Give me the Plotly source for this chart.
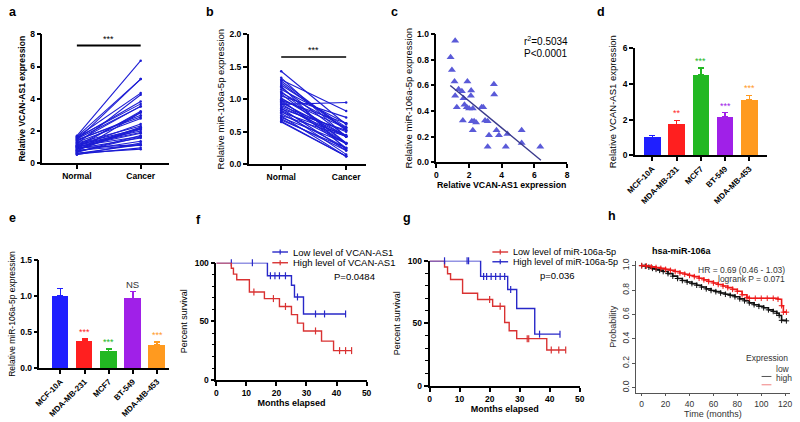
import plotly.graph_objects as go

# ---------------- data ----------------
pair_labels = ["Normal", "Cancer"]
# panel a: VCAN-AS1 paired (normal -> cancer)
vcan_normal = [0.95, 0.62, 0.55, 0.80, 1.10, 0.75, 0.60, 0.90, 1.05, 1.20, 0.85, 0.70,
               1.00, 0.52, 1.15, 0.95, 1.30, 1.45, 0.68, 0.88, 1.25, 1.05, 0.78, 1.40,
               1.10, 1.50, 1.35, 1.60, 0.98, 0.72, 1.55, 1.62, 1.20, 1.65, 1.45, 1.70]
vcan_cancer = [1.15, 0.87, 0.95, 1.11, 1.90, 1.36, 1.15, 1.56, 1.66, 2.13, 2.11, 1.72,
               1.86, 1.25, 2.00, 2.23, 2.77, 2.87, 1.62, 2.17, 2.31, 2.43, 2.23, 2.98,
               3.14, 3.52, 3.54, 3.68, 3.22, 3.14, 3.83, 4.35, 4.25, 5.22, 5.22, 6.36]
# panel b: miR-106a-5p paired (normal -> cancer)
mir_normal = [0.92, 1.30, 1.05, 1.15, 0.98, 1.22, 0.85, 1.00, 0.90, 1.10, 1.25, 0.80,
              0.95, 0.75, 1.33, 0.88, 1.18, 1.02, 0.72, 0.83, 1.08, 0.93, 0.68, 1.12,
              0.97, 1.43, 1.28, 0.78, 0.70, 0.65, 0.86, 1.20, 0.74, 0.99, 0.82, 0.66]
mir_cancer = [0.95, 0.82, 0.72, 0.63, 0.63, 0.57, 0.52, 0.555, 0.50, 0.56, 0.52, 0.45,
              0.43, 0.43, 0.42, 0.42, 0.43, 0.43, 0.325, 0.32, 0.32, 0.31, 0.25, 0.325,
              0.32, 0.61, 0.53, 0.25, 0.21, 0.12, 0.21, 0.22, 0.12, 0.25, 0.15, 0.12]
# panel c: regression line
fit_x = [0.85, 6.4]
fit_y = [0.60, 0.015]
r2_text = "r<sup>2</sup>=0.5034"
p_text = "P<0.0001"

# panels d, e: cell lines
cell_lines = ["MCF-10A", "MDA-MB-231", "MCF7", "BT-549", "MDA-MB-453"]
vcan_cell = [1.0, 1.73, 4.51, 2.15, 3.11]
vcan_cell_err = [0.11, 0.23, 0.36, 0.23, 0.25]
vcan_cell_sig = ["", "**", "***", "***", "***"]
mir_cell = [1.0, 0.374, 0.234, 0.968, 0.329]
mir_cell_err = [0.10, 0.03, 0.03, 0.09, 0.035]
mir_cell_sig = ["", "***", "***", "NS", "***"]
bar_colors = ["#1f1fff", "#ff1f1f", "#22b822", "#a020e8", "#ff9a1f"]

# panel f: KM by VCAN-AS1
f_low_t = [0, 17, 25, 26, 29, 43]
f_low_s = [100, 88.9, 80.8, 70.8, 56.3, 56.3]
f_low_ct = [5, 12, 18, 19.5, 21, 23, 27, 33, 36, 43]
f_low_cs = [100, 100, 88.9, 88.9, 88.9, 88.9, 70.8, 56.3, 56.3, 56.3]
f_high_t = [0, 5, 5.7, 6.8, 11, 16, 21, 25, 27, 29, 35, 39, 45]
f_high_s = [100, 95.3, 90.3, 85.5, 75, 69.4, 62.7, 55.7, 48.5, 41.8, 33.1, 25, 25]
f_high_ct = [12.5, 19, 23, 33, 41, 43, 45]
f_high_cs = [75, 69.4, 62.7, 41.8, 25, 25, 25]
f_labels = ["Low level of VCAN-AS1", "High level of VCAN-AS1"]
f_p = "P=0.0484"

# panel g: KM by miR-106a-5p
g_low_t = [0, 5, 6, 7, 11, 16, 21, 25, 26.5, 29, 39, 45.3]
g_low_s = [100, 95, 89.6, 85, 74, 69, 63.6, 50.6, 44, 37.7, 28.6, 28.6]
g_low_ct = [20, 23.5, 32.5, 33, 40.5, 43, 45.3]
g_low_cs = [69, 63.6, 37.7, 37.7, 28.6, 28.6, 28.6]
g_high_t = [0, 17, 26, 29, 35, 43.4]
g_high_s = [100, 87.5, 77, 61.8, 41.3, 41.3]
g_high_ct = [5, 12.5, 13, 18, 19, 20.5, 22, 23.5, 25, 27, 36.6, 43.4]
g_high_cs = [100, 100, 100, 87.5, 87.5, 87.5, 87.5, 87.5, 87.5, 77, 41.3, 41.3]
g_labels = ["Low level of miR-106a-5p", "High level of miR-106a-5p"]
g_p = "p=0.036"

# panel h: KM plotter
h_low_t = [0, 3, 6, 9, 12, 15, 18, 22, 26, 30, 34, 38, 42, 46, 50, 54, 58, 62, 66, 70,
           74, 78, 82, 86, 90, 94, 98, 102, 106, 110, 113, 115, 117, 121]
h_low_s = [1.0, 0.995, 0.988, 0.978, 0.97, 0.962, 0.952, 0.935, 0.914, 0.895, 0.878,
           0.866, 0.853, 0.84, 0.825, 0.81, 0.797, 0.787, 0.776, 0.766, 0.757, 0.745,
           0.728, 0.712, 0.695, 0.68, 0.667, 0.655, 0.638, 0.625, 0.61, 0.592, 0.552, 0.548]
h_high_t = [0, 4, 8, 12, 16, 20, 24, 28, 32, 36, 40, 44, 48, 52, 56, 60, 64, 68, 72, 76,
            80, 84, 88, 90, 95, 100, 105, 110, 114, 117, 118.5, 121]
h_high_s = [1.0, 0.997, 0.99, 0.985, 0.978, 0.97, 0.962, 0.952, 0.94, 0.93, 0.92, 0.91,
            0.897, 0.884, 0.87, 0.858, 0.846, 0.833, 0.82, 0.806, 0.79, 0.762, 0.74,
            0.733, 0.733, 0.733, 0.733, 0.733, 0.725, 0.672, 0.619, 0.619]
h_title = "hsa-miR-106a"
h_hr = "HR = 0.69 (0.46 - 1.03)"
h_lr = "logrank P = 0.071"
h_legend = ["low", "high"]

# ---------------- style ----------------
FONT = "Liberation Sans"
W, H = 800, 422
LINE_BLUE = "#1c1cd4"
KM_BLUE = "#2828c8"
KM_RED = "#d93232"


def px(x):
    return x / W


def py(y):
    return 1 - y / H


def prism_axis(domain, rng, tsize=8.5, **kw):
    d = dict(domain=domain, range=rng, showline=True, linecolor="black", linewidth=1.5,
             ticks="outside", ticklen=4, tickwidth=1.5, tickcolor="black",
             showgrid=False, zeroline=False,
             tickfont=dict(family=FONT, size=tsize, color="black", weight="bold"))
    d.update(kw)
    return d


def title(text, size=9, bold=False, standoff=4):
    return dict(text=text, font=dict(family=FONT, size=size, color="black",
                                     weight="bold" if bold else "normal"),
                standoff=standoff)


fig = go.Figure()
layout = {}
ann = []
shapes = []

# ---- panel a ----
xs, ys = [], []
for n, c in zip(vcan_normal, vcan_cancer):
    xs += pair_labels + [None]
    ys += [n, c, None]
fig.add_trace(go.Scatter(x=xs, y=ys, mode="lines+markers", xaxis="x", yaxis="y",
                         line=dict(color=LINE_BLUE, width=1.1),
                         marker=dict(size=2.5, color=LINE_BLUE), showlegend=False))
layout["xaxis"] = prism_axis([px(34), px(163)], [-0.54, 1.446], tsize=8.5,
                             type="category", categoryorder="array", categoryarray=pair_labels,
                             anchor="y")
layout["yaxis"] = prism_axis([py(162), py(30)], [0, 8], tickvals=[0, 2, 4, 6, 8],
                             anchor="x", title=title("Relative VCAN-AS1 expression", 8.5, True, 3))

# ---- panel b ----
xs, ys = [], []
for n, c in zip(mir_normal, mir_cancer):
    xs += pair_labels + [None]
    ys += [n, c, None]
fig.add_trace(go.Scatter(x=xs, y=ys, mode="lines+markers", xaxis="x2", yaxis="y2",
                         line=dict(color=LINE_BLUE, width=1.1),
                         marker=dict(size=2.5, color=LINE_BLUE), showlegend=False))
layout["xaxis2"] = prism_axis([px(244), px(363)], [-0.5, 1.30],
                              type="category", categoryorder="array", categoryarray=pair_labels,
                              anchor="y2")
layout["yaxis2"] = prism_axis([py(163), py(30)], [0, 2], tickvals=[0, 0.5, 1.0, 1.5, 2.0],
                              tickformat=".1f", anchor="x2",
                              title=title("Relative miR-106a-5p expression", 9.5, False, 3))

# ---- panel c ----
fig.add_trace(go.Scatter(x=vcan_cancer, y=mir_cancer, mode="markers", xaxis="x3", yaxis="y3",
                         marker=dict(symbol="triangle-up", size=7, color="#5a5ad8"),
                         cliponaxis=False, showlegend=False))
fig.add_trace(go.Scatter(x=fit_x, y=fit_y, mode="lines", xaxis="x3", yaxis="y3",
                         line=dict(color="#3a3a8c", width=1.4), showlegend=False))
layout["xaxis3"] = prism_axis([px(435), px(568)], [0, 8], tickvals=[0, 2, 4, 6, 8], anchor="y3",
                              title=title("Relative VCAN-AS1 expression", 8.75, True, 2))
layout["yaxis3"] = prism_axis([py(161), py(30)], [0, 1], tickvals=[0, 0.2, 0.4, 0.6, 0.8, 1.0],
                              tickformat=".1f", anchor="x3",
                              title=title("Relative miR-106a-5p expression", 9.5, False, 3))


# ---- panel d & e: bars ----
def bar_panel(vals, errs, sigs, xa, ya):
    for lab, v, e, s, col in zip(cell_lines, vals, errs, sigs, bar_colors):
        fig.add_trace(go.Bar(x=[lab], y=[v], xaxis=xa, yaxis=ya, width=0.68,
                             marker=dict(color=col, line=dict(width=0)),
                             error_y=dict(type="data", array=[e], arrayminus=[0],
                                          symmetric=False, color=col, thickness=1.4, width=3),
                             showlegend=False))
        if s:
            ann.append(dict(x=lab, y=v + e, xref=xa, yref=ya, text=s, showarrow=False,
                            yanchor="bottom", yshift=0,
                            font=dict(family=FONT, size=9 if s != "NS" else 9.5,
                                      color=col if s != "NS" else "#333333")))


bar_panel(vcan_cell, vcan_cell_err, vcan_cell_sig, "x4", "y4")
layout["xaxis4"] = prism_axis([px(637), px(771)], [-0.72, 4.71], tsize=8, tickangle=-45,
                              type="category", categoryorder="array", categoryarray=cell_lines,
                              anchor="y4")
layout["yaxis4"] = prism_axis([py(154), py(44)], [0, 6], tickvals=[0, 2, 4, 6], anchor="x4",
                              title=title("Relative VCAN-AS1 expression", 9.5, False, 4))

bar_panel(mir_cell, mir_cell_err, mir_cell_sig, "x5", "y5")
layout["xaxis5"] = prism_axis([px(31), px(163)], [-0.87, 4.5], tsize=8, tickangle=-45,
                              type="category", categoryorder="array", categoryarray=cell_lines,
                              anchor="y5")
layout["yaxis5"] = prism_axis([py(372), py(261)], [0, 1.5], tickvals=[0, 0.5, 1.0, 1.5],
                              tickformat=".1f", anchor="x5",
                              title=title("Relative miR-106a-5p expression", 8.5, False, 3))


# ---- panels f & g: KM ----
def km(t, s, ct, cs, col, xa, ya):
    fig.add_trace(go.Scatter(x=t, y=s, mode="lines", line=dict(shape="hv", color=col, width=1.4),
                             xaxis=xa, yaxis=ya, showlegend=False))
    fig.add_trace(go.Scatter(x=ct, y=cs, mode="markers", xaxis=xa, yaxis=ya,
                             marker=dict(symbol="line-ns", size=5, line=dict(color=col, width=1.2)),
                             cliponaxis=False, showlegend=False))


MINOR = dict(tickvals=[10, 20, 30, 40, 60, 70, 80, 90], ticks="outside",
             ticklen=2.5, tickwidth=1, tickcolor="black")

km(f_low_t, f_low_s, f_low_ct, f_low_cs, KM_BLUE, "x6", "y6")
km(f_high_t, f_high_s, f_high_ct, f_high_cs, KM_RED, "x6", "y6")
layout["xaxis6"] = prism_axis([px(211), px(364)], [0, 50], tickvals=[0, 10, 20, 30, 40, 50],
                              anchor="y6", title=title("Months elapsed", 9, True, 2))
layout["yaxis6"] = prism_axis([py(384), py(264)], [0, 100], tickvals=[0, 50, 100], anchor="x6",
                              minor=MINOR, title=title("Percent survival", 9, False, 6))

km(g_low_t, g_low_s, g_low_ct, g_low_cs, KM_RED, "x7", "y7")
km(g_high_t, g_high_s, g_high_ct, g_high_cs, KM_BLUE, "x7", "y7")
layout["xaxis7"] = prism_axis([px(428), px(581)], [0, 50], tickvals=[0, 10, 20, 30, 40, 50],
                              anchor="y7", title=title("Months elapsed", 9, True, 2))
layout["yaxis7"] = prism_axis([py(390), py(262)], [0, 100], tickvals=[0, 50, 100], anchor="x7",
                              minor=MINOR, title=title("Percent survival", 9, False, 6))

# ---- panel h ----
fig.add_trace(go.Scatter(x=h_low_t, y=h_low_s, mode="lines+markers", xaxis="x8", yaxis="y8",
                         line=dict(shape="hv", color="#111111", width=1.6),
                         marker=dict(symbol="cross-thin", size=4, line=dict(color="#111111", width=1)),
                         showlegend=False))
fig.add_trace(go.Scatter(x=h_high_t, y=h_high_s, mode="lines+markers", xaxis="x8", yaxis="y8",
                         line=dict(shape="hv", color="#ee1a1a", width=1.6),
                         marker=dict(symbol="cross-thin", size=4, line=dict(color="#ee1a1a", width=1)),
                         showlegend=False))
HFONT = dict(family=FONT, size=8.5, color="#333333")
layout["xaxis8"] = dict(domain=[px(638), px(795)], range=[-4.9, 124.1], anchor="y8",
                        tickvals=[0, 20, 40, 60, 80, 100, 120], showline=True, linecolor="#555555",
                        linewidth=0.8, ticks="outside", ticklen=3, tickcolor="#555555",
                        showgrid=False, zeroline=False, tickfont=HFONT,
                        title=dict(text="Time (months)", font=dict(family=FONT, size=9, color="#333333"),
                                   standoff=2))
layout["yaxis8"] = dict(domain=[py(397), py(262)], range=[-0.04, 1.04], anchor="x8",
                        tickvals=[0, 0.2, 0.4, 0.6, 0.8, 1.0], tickformat=".1f", tickangle=-90,
                        showline=True, linecolor="#555555", linewidth=0.8, ticks="outside",
                        ticklen=3, tickcolor="#555555", showgrid=False, zeroline=False,
                        tickfont=HFONT,
                        title=dict(text="Probability", font=dict(family=FONT, size=9, color="#333333"),
                                   standoff=2))

# ---- annotations ----
for letter, lx, ly in [("a", 4, 7), ("b", 205, 7), ("c", 392, 7), ("d", 603, 7),
                       ("e", 4, 218), ("f", 193, 220), ("g", 405, 218), ("h", 614, 216)]:
    ann.append(dict(x=px(lx), y=py(ly), xref="paper", yref="paper", text=letter, showarrow=False,
                    xanchor="center", yanchor="middle",
                    font=dict(family=FONT, size=12.5, color="black", weight="bold")))

# significance bars a, b
shapes.append(dict(type="line", xref="x", yref="y", x0=0, x1=1, y0=7.3, y1=7.3,
                   line=dict(color="black", width=2)))
shapes.append(dict(type="line", xref="x2", yref="y2", x0=0, x1=1, y0=1.65, y1=1.65,
                   line=dict(color="black", width=1.5)))
ann.append(dict(x=0.5, y=7.3, xref="x", yref="y", text="***", showarrow=False, yanchor="bottom",
                font=dict(family=FONT, size=9, color="black")))
ann.append(dict(x=0.5, y=1.65, xref="x2", yref="y2", text="***", showarrow=False, yanchor="bottom",
                font=dict(family=FONT, size=9, color="black")))

# panel c stats
ann.append(dict(x=px(522), y=py(37), xref="paper", yref="paper", text=r2_text, showarrow=False,
                xanchor="left", yanchor="middle", font=dict(family=FONT, size=10, color="black")))
ann.append(dict(x=px(522), y=py(50), xref="paper", yref="paper", text=p_text, showarrow=False,
                xanchor="left", yanchor="middle", font=dict(family=FONT, size=10, color="black")))

# KM legends (f, g)
for labels, cols, x0, ys_, fs in [(f_labels, [KM_BLUE, KM_RED], 268, [253, 264], 9.5),
                                  (g_labels, [KM_RED, KM_BLUE], 492, [253, 263], 9.1)]:
    for lab, col, yy in zip(labels, cols, ys_):
        shapes.append(dict(type="line", xref="paper", yref="paper", x0=px(x0), x1=px(x0 + 16),
                           y0=py(yy), y1=py(yy), line=dict(color=col, width=1.4)))
        shapes.append(dict(type="line", xref="paper", yref="paper", x0=px(x0 + 8), x1=px(x0 + 8),
                           y0=py(yy - 2.5), y1=py(yy + 2.5), line=dict(color=col, width=1.2)))
        ann.append(dict(x=px(x0 + 19), y=py(yy), xref="paper", yref="paper", text=lab,
                        showarrow=False, xanchor="left", yanchor="middle",
                        font=dict(family=FONT, size=fs, color="black")))
ann.append(dict(x=px(352), y=py(286), xref="paper", yref="paper", text=f_p, showarrow=False,
                font=dict(family=FONT, size=9.5, color="black")))
ann.append(dict(x=px(578), y=py(285), xref="paper", yref="paper", text=g_p, showarrow=False,
                font=dict(family=FONT, size=9.5, color="black")))

# panel h texts
ann.append(dict(x=px(718), y=py(252), xref="paper", yref="paper", text=h_title, showarrow=False,
                font=dict(family=FONT, size=9, color="black", weight="bold")))
ann.append(dict(x=px(792), y=py(271), xref="paper", yref="paper", text=h_hr, showarrow=False,
                xanchor="right", font=dict(family=FONT, size=8.5, color="#333333")))
ann.append(dict(x=px(792), y=py(280.5), xref="paper", yref="paper", text=h_lr, showarrow=False,
                xanchor="right", font=dict(family=FONT, size=8.5, color="#333333")))
ann.append(dict(x=px(795), y=py(369), xref="paper", yref="paper", text="Expression",
                showarrow=False, xanchor="right", font=dict(family=FONT, size=8.5, color="#333333")))
for lab, col, yy in zip(h_legend, ["#555555", "#f08080"], [380.5, 389]):
    shapes.append(dict(type="line", xref="paper", yref="paper", x0=px(766), x1=px(776),
                       y0=py(yy), y1=py(yy), line=dict(color=col, width=1)))
    ann.append(dict(x=px(779), y=py(yy), xref="paper", yref="paper", text=lab, showarrow=False,
                    xanchor="left", font=dict(family=FONT, size=8.5, color="#333333")))

fig.update_layout(width=W, height=H, margin=dict(l=0, r=0, t=0, b=0),
                  paper_bgcolor="white", plot_bgcolor="white", showlegend=False,
                  bargap=0, **layout)
fig.layout.annotations = ann
fig.layout.shapes = shapes

fig.write_html("out.html", config={"displayModeBar": False},
               post_script="document.body.style.margin='0';document.body.style.overflow='hidden';")
